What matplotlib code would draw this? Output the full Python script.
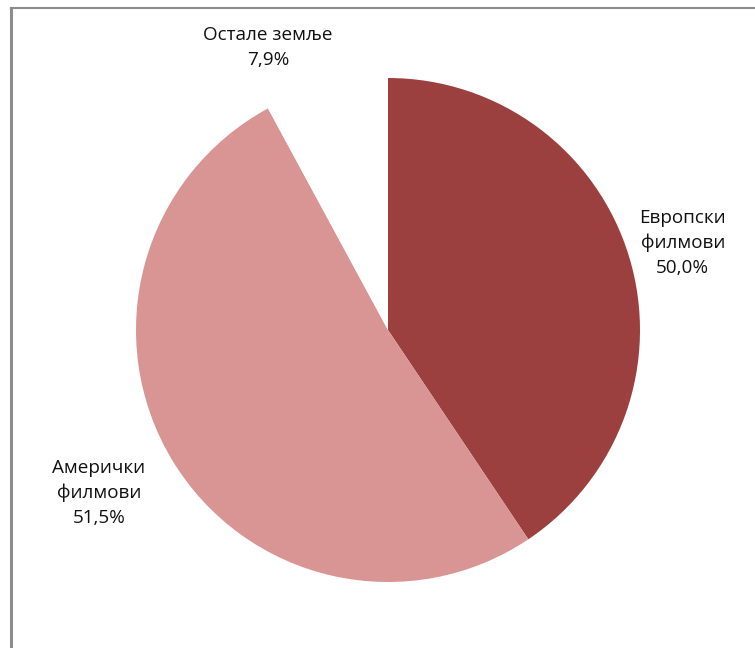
import numpy as np
import matplotlib.pyplot as plt
from matplotlib.lines import Line2D

# shares as drawn (labels keep the text printed on the original chart)
categories = ['Европски\nфилмови', 'Амерички\nфилмови', 'Остале земље']
shares = [40.6, 51.5, 7.9]
label_pct = ['50,0%', '51,5%', '7,9%']
colors = ['#9C403F', '#D99594', '#FFFFFF']

W, H = 755, 648
cx, cy, r = 388, 330, 252

fig = plt.figure(figsize=(W / 100, H / 100), dpi=100)
ax = fig.add_axes([(cx - r) / W, (H - cy - r) / H, 2 * r / W, 2 * r / H])
ax.pie(shares, colors=colors, startangle=90, counterclock=False,
       radius=1, wedgeprops=dict(linewidth=0))
ax.set_xlim(-1, 1)
ax.set_ylim(-1, 1)
ax.axis('off')

# label anchors (data units relative to pie centre)
label_pos = [(1.17, 0.345), (-1.147, -0.647), (-0.476, 1.12)]
for cat, pct, (x, y) in zip(categories, label_pct, label_pos):
    ax.text(x, y, cat + '\n' + pct, ha='center', va='center',
            fontsize=13.6, family='Open Sans', color='#111111',
            linespacing=1.5, clip_on=False)

# chart-area frame (only top and left edges visible)
fig.add_artist(Line2D([10.5 / W, 10.5 / W], [0, 1 - 8 / H],
                      transform=fig.transFigure, color='#8C8C8C', lw=2.2))
fig.add_artist(Line2D([10.5 / W, 1], [1 - 8 / H, 1 - 8 / H],
                      transform=fig.transFigure, color='#8C8C8C', lw=1.5))

fig.savefig('out.png', dpi=100, facecolor='white')
